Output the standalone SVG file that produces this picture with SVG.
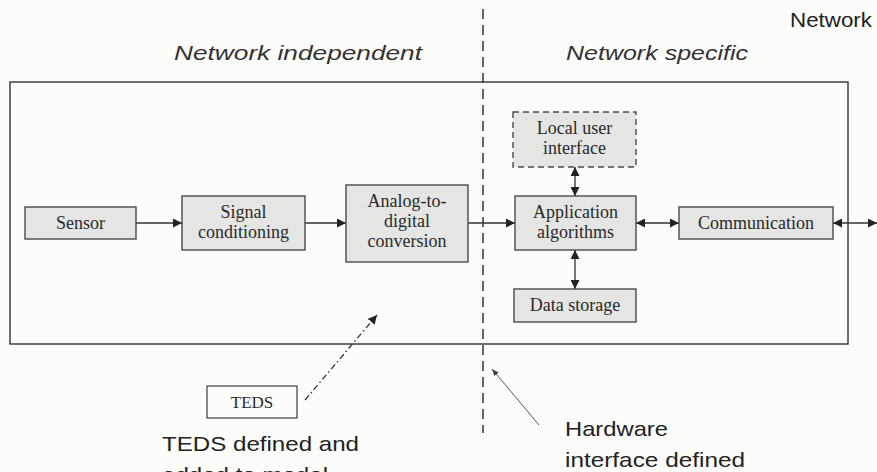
<svg xmlns="http://www.w3.org/2000/svg" width="877" height="472" viewBox="0 0 877 472">
  <style>
    .box { fill: #e5e5e3; stroke: #4a4a4a; stroke-width: 1.4; }
    .dashbox { fill: #e5e5e3; stroke: #4a4a4a; stroke-width: 1.4; stroke-dasharray: 6 4; }
    .lbl { font-family: "Liberation Serif", "Times New Roman", serif; font-size: 18px; fill: #2a2a2a; text-anchor: middle; }
    .note { font-family: "Liberation Sans", Arial, sans-serif; font-size: 21px; fill: #222; }
    .head { font-family: "Liberation Sans", Arial, sans-serif; font-size: 21px; font-style: italic; fill: #333; }
    .link { stroke: #333; stroke-width: 1.3; fill: none; }
  </style>
  <defs>
    <marker id="arr" viewBox="0 0 10 10" refX="10" refY="5" markerWidth="9" markerHeight="9" markerUnits="userSpaceOnUse" orient="auto-start-reverse">
      <path d="M0,0 L10,5 L0,10 z" fill="#222"/>
    </marker>
    <marker id="arrThin" viewBox="0 0 10 10" refX="10" refY="5" markerWidth="7" markerHeight="7" markerUnits="userSpaceOnUse" orient="auto">
      <path d="M0,1 L10,5 L0,9 z" fill="#444"/>
    </marker>
  </defs>

  <rect x="0" y="0" width="877" height="472" fill="#fcfcfa"/>

  <!-- enclosing module frame -->
  <rect x="10" y="82" width="838" height="262" fill="none" stroke="#333" stroke-width="1.4"/>

  <!-- boundary between the two halves -->
  <line x1="483" y1="9" x2="483" y2="433" stroke="#333" stroke-width="1.5" stroke-dasharray="10 6"/>

  <!-- section headings -->
  <text class="head" x="174" y="60" textLength="248" lengthAdjust="spacingAndGlyphs">Network independent</text>
  <text class="head" x="566" y="60" textLength="182" lengthAdjust="spacingAndGlyphs">Network specific</text>
  <text class="note" x="790" y="27" textLength="82" lengthAdjust="spacingAndGlyphs">Network</text>

  <!-- connectors -->
  <g id="connectors">
    <line class="link" x1="136" y1="223" x2="182" y2="223" marker-end="url(#arr)"/>
    <line class="link" x1="305" y1="223" x2="346" y2="223" marker-end="url(#arr)"/>
    <line class="link" x1="468" y1="223" x2="515" y2="223" marker-end="url(#arr)"/>
    <line class="link" x1="636" y1="223" x2="679" y2="223" marker-start="url(#arr)" marker-end="url(#arr)"/>
    <line class="link" x1="833" y1="223" x2="877" y2="223" marker-start="url(#arr)" marker-end="url(#arr)"/>
    <line class="link" x1="575" y1="167" x2="575" y2="196" marker-start="url(#arr)" marker-end="url(#arr)"/>
    <line class="link" x1="575" y1="250" x2="575" y2="289" marker-start="url(#arr)" marker-end="url(#arr)"/>
    <line class="link" x1="305" y1="400" x2="377" y2="315" stroke-dasharray="6 3 1.5 3" marker-end="url(#arr)"/>
    <line x1="539" y1="425" x2="492" y2="369" stroke="#555" stroke-width="1" marker-end="url(#arrThin)"/>
  </g>

  <!-- processing blocks -->
  <g id="sensor">
    <rect class="box" x="25" y="207" width="111" height="32"/>
    <text class="lbl" x="80.5" y="229">Sensor</text>
  </g>
  <g id="signal-conditioning">
    <rect class="box" x="182" y="196" width="123" height="54"/>
    <text class="lbl" x="243.5" y="218">Signal</text>
    <text class="lbl" x="243.5" y="238">conditioning</text>
  </g>
  <g id="adc">
    <rect class="box" x="346" y="185" width="122" height="77"/>
    <text class="lbl" x="407" y="207">Analog-to-</text>
    <text class="lbl" x="407" y="227">digital</text>
    <text class="lbl" x="407" y="247">conversion</text>
  </g>
  <g id="local-ui">
    <rect class="dashbox" x="513" y="112" width="123" height="55"/>
    <text class="lbl" x="574.5" y="134">Local user</text>
    <text class="lbl" x="574.5" y="154">interface</text>
  </g>
  <g id="application">
    <rect class="box" x="515" y="196" width="121" height="54"/>
    <text class="lbl" x="575.5" y="218">Application</text>
    <text class="lbl" x="575.5" y="238">algorithms</text>
  </g>
  <g id="data-storage">
    <rect class="box" x="514" y="289" width="122" height="33"/>
    <text class="lbl" x="575" y="311">Data storage</text>
  </g>
  <g id="communication">
    <rect class="box" x="679" y="207" width="154" height="32"/>
    <text class="lbl" x="756" y="229">Communication</text>
  </g>
  <g id="teds">
    <rect x="207" y="386" width="90" height="32" fill="#fcfcfa" stroke="#4a4a4a" stroke-width="1.3"/>
    <text class="lbl" x="252" y="408" style="font-size:17px">TEDS</text>
  </g>

  <!-- annotations -->
  <g id="teds-note">
    <text class="note" x="162" y="451" textLength="197" lengthAdjust="spacingAndGlyphs">TEDS defined and</text>
    <text class="note" x="162" y="482" textLength="166" lengthAdjust="spacingAndGlyphs">added to model</text>
  </g>
  <g id="hardware-note">
    <text class="note" x="565" y="436" textLength="103" lengthAdjust="spacingAndGlyphs">Hardware</text>
    <text class="note" x="565" y="467" textLength="180" lengthAdjust="spacingAndGlyphs">interface defined</text>
  </g>
</svg>
